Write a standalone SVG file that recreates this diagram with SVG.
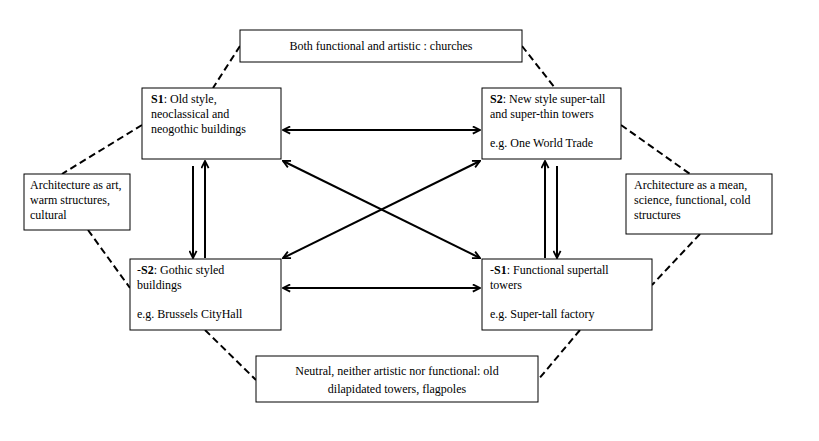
<svg xmlns="http://www.w3.org/2000/svg" width="819" height="441" viewBox="0 0 819 441" font-family="Liberation Serif, DejaVu Serif, serif">
<style>
rect{fill:#fff;stroke:#000;stroke-width:1}
text{font-size:12px;fill:#000}
.d{stroke:#000;stroke-width:2;stroke-dasharray:7,4;fill:none}
.a{stroke:#000;stroke-width:2;fill:none}
</style>
<defs>
<marker id="h" viewBox="0 0 10 10" refX="9" refY="5" markerWidth="9" markerHeight="9" orient="auto-start-reverse" markerUnits="userSpaceOnUse"><path d="M1,1 L9,5 L1,9" fill="none" stroke="#000" stroke-width="2"/></marker>
</defs>
<rect width="819" height="441" style="stroke:none"/>
<g id="connectors">
<path class="d" d="M240,46 L213,88 M522,46 L555,88 M142,125 L62,174 M88,230 L130,288 M205,330 L256,380 M621,125 L690,174 M700,234 L652,285 M580,330 L538,380"/>
<g marker-end="url(#h)">
<path class="a" d="M283,130 L480,130" marker-start="url(#h)"/>
<path class="a" d="M283,288 L480,288" marker-start="url(#h)"/>
<path class="a" d="M283,161 L480,258" marker-start="url(#h)"/>
<path class="a" d="M480,161 L283,258" marker-start="url(#h)"/>
<path class="a" d="M193,166 L193,258"/>
<path class="a" d="M205,258 L205,161"/>
<path class="a" d="M545,258 L545,161"/>
<path class="a" d="M557,166 L557,258"/>
</g>
</g>
<g id="top"><rect x="240" y="30" width="282" height="32"/><text x="381" y="50" text-anchor="middle" font-size="13">Both functional and artistic : churches</text></g>
<g id="s1"><rect x="142" y="88" width="139" height="71"/><text x="151" y="103"><tspan font-weight="bold">S1</tspan>: Old style,</text><text x="151" y="118">neoclassical and</text><text x="151" y="133">neogothic buildings</text></g>
<g id="s2"><rect x="482" y="88" width="139" height="71"/><text x="490" y="103"><tspan font-weight="bold">S2</tspan>: New style super-tall</text><text x="490" y="118">and super-thin towers</text><text x="490" y="147">e.g. One World Trade</text></g>
<g id="ns2"><rect x="130" y="259" width="151" height="71"/><text x="137" y="274">-<tspan font-weight="bold">S2</tspan>: Gothic styled</text><text x="137" y="289">buildings</text><text x="137" y="318">e.g. Brussels CityHall</text></g>
<g id="ns1"><rect x="482" y="259" width="170" height="71"/><text x="490" y="274">-<tspan font-weight="bold">S1</tspan>: Functional supertall</text><text x="490" y="289">towers</text><text x="490" y="318">e.g.  Super-tall factory</text></g>
<g id="left"><rect x="24" y="174" width="106" height="56"/><text x="30" y="189">Architecture as art,</text><text x="30" y="204">warm structures,</text><text x="30" y="219">cultural</text></g>
<g id="right"><rect x="626" y="174" width="146" height="60"/><text x="634" y="189">Architecture as a mean,</text><text x="634" y="204">science, functional, cold</text><text x="634" y="219">structures</text></g>
<g id="bottom"><rect x="256" y="356" width="282" height="46"/><text x="397" y="375" text-anchor="middle" font-size="13">Neutral, neither artistic nor functional: old</text><text x="397" y="393" text-anchor="middle" font-size="13">dilapidated towers, flagpoles</text></g>
</svg>
